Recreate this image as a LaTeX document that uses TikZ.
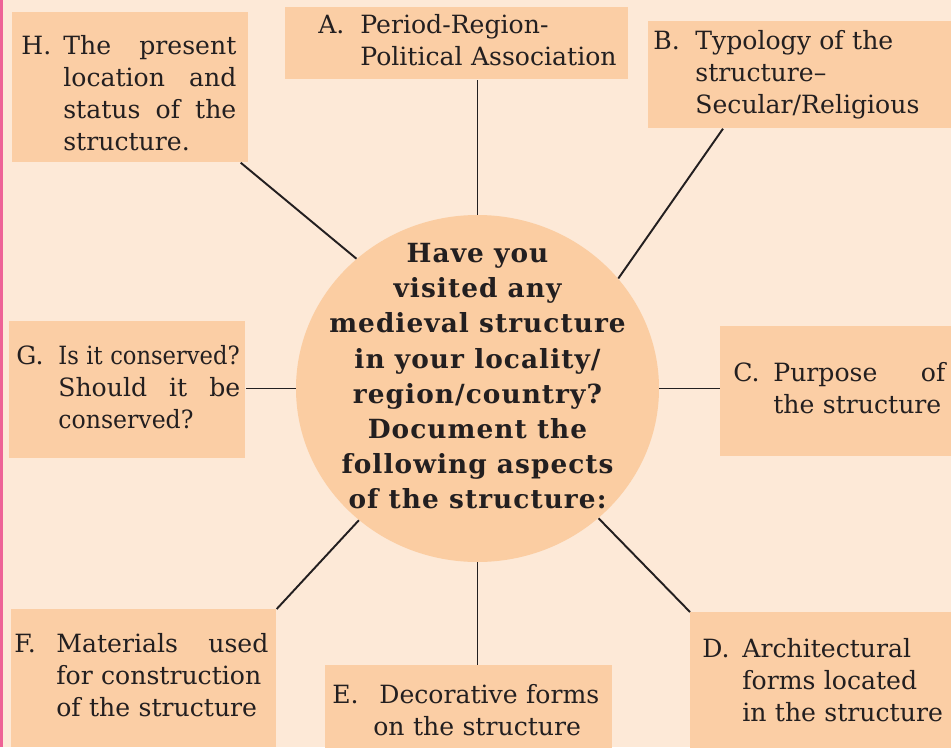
\documentclass[tikz,border=0pt]{standalone}
\usepackage{fontspec}
\setmainfont{DejaVu Serif}
\usepackage{graphicx}
\usepackage{xcolor}
\usepackage{tikz}
\usetikzlibrary{shapes.geometric}
\definecolor{paper}{RGB}{253,233,215}
\definecolor{boxfill}{RGB}{251,206,165}
\definecolor{corefill}{RGB}{251,205,162}
\definecolor{ink}{RGB}{35,31,32}
\definecolor{edgepink}{RGB}{238,98,150}
\tikzset{aspect/.style={rectangle,fill=boxfill,anchor=north west,align=left,inner ysep=0pt,text=ink,font=\fontsize{14.3}{18.1}\selectfont}}
\tikzset{core/.style={ellipse,fill=corefill,minimum width=7.26cm,minimum height=6.94cm,inner sep=0pt,text=ink,font=\bfseries\fontsize{15}{20}\selectfont\addfontfeature{LetterSpace=4}}}
\tikzset{link/.style={draw=ink,line width=1.1pt}}
\newcommand{\asp}[3][0.84cm]{\makebox[#1][l]{#2}\begin{tabular}[t]{@{}l@{}}#3\end{tabular}}
\newcommand{\spread}[2]{\makebox[#1][l]{#2}}

\begin{document}
\begin{tikzpicture}
    \clip (0,0) rectangle (19.02,14.94);
    \fill[paper] (0,0) rectangle (19.02,14.94);
    \fill[edgepink] (0,0) rectangle (0.06,14.94);

    \node[aspect,minimum width=4.72cm,minimum height=3.00cm,inner xsep=0.18cm,text width=4.36cm] (h) at (0.24,14.70)
        {\asp{\rule{0pt}{0.8cm}H.}{\spread{3.46cm}{The\hfill present}\\ \spread{3.46cm}{location\hfill and}\\ \spread{3.46cm}{status\hfill of\hfill the}\\ structure.}};
    \node[aspect,minimum width=6.86cm,minimum height=1.44cm,inner xsep=0.66cm,text width=5.54cm] (a) at (5.70,14.80)
        {\asp{A.}{Period-Region-\\ Political Association}};
    \node[aspect,minimum width=6.60cm,minimum height=2.14cm,inner xsep=0.10cm,text width=6.40cm] (b) at (12.96,14.52)
        {\asp{B.}{Typology of the\\ structure--\\ Secular/Religious}};
    \node[aspect,minimum width=4.72cm,minimum height=2.74cm,inner xsep=0.14cm,text width=4.44cm] (g) at (0.18,8.52)
        {\asp{G.}{\scalebox{0.9}[1]{Is it conserved?}\\ \spread{3.64cm}{Should\hfill it\hfill be}\\ \scalebox{0.94}[1]{conserved?}}};
    \node[aspect,minimum width=5.40cm,minimum height=2.60cm,inner xsep=0.26cm,text width=4.88cm] (c) at (14.40,8.42)
        {\asp[0.80cm]{C.}{\spread{3.44cm}{Purpose\hfill of}\\ the structure}};
    \node[aspect,minimum width=5.30cm,minimum height=2.76cm,inner xsep=0.06cm,text width=5.18cm] (f) at (0.22,2.76)
        {\asp{F.}{\spread{4.24cm}{Materials\hfill used}\\ for construction\\ of the structure}};
    \node[aspect,minimum width=5.74cm,minimum height=1.92cm,inner xsep=0.14cm,text width=5.46cm] (e) at (6.50,1.64)
        {\asp[0.94cm]{E.}{Decorative forms\\ \hspace*{-0.12cm}on the structure}};
    \node[aspect,minimum width=5.40cm,minimum height=2.84cm,inner xsep=0.24cm,text width=4.92cm] (d) at (13.80,2.70)
        {\asp[0.80cm]{D.}{Architectural\\ forms located\\ in the structure}};

    \node[core] (q) at (9.55,7.17) {\raisebox{0.14cm}{\makebox[0pt]{\smash{\begin{tabular}{@{}c@{}}
        Have you\\ visited any\\ medieval structure\\ in your locality/\\ region/country?\\
        Document the\\ following aspects\\ of the structure:\end{tabular}}}}};

    \draw[link] (q.north) -- (q.north |- a.south);
    \draw[link] (q.38.5) -- ([xshift=1.5cm]b.south west);
    \draw[link] (q.east) -- (q.east -| c.west);
    \draw[link] (q.313.6) -- (d.north west);
    \draw[link] (q.south) -- (q.south |- e.north);
    \draw[link] (q.228.4) -- (f.north east);
    \draw[link] (q.west) -- (q.west -| g.east);
    \draw[link] (q.133.2) -- ([xshift=-0.16cm]h.south east);
\end{tikzpicture}
\end{document}
